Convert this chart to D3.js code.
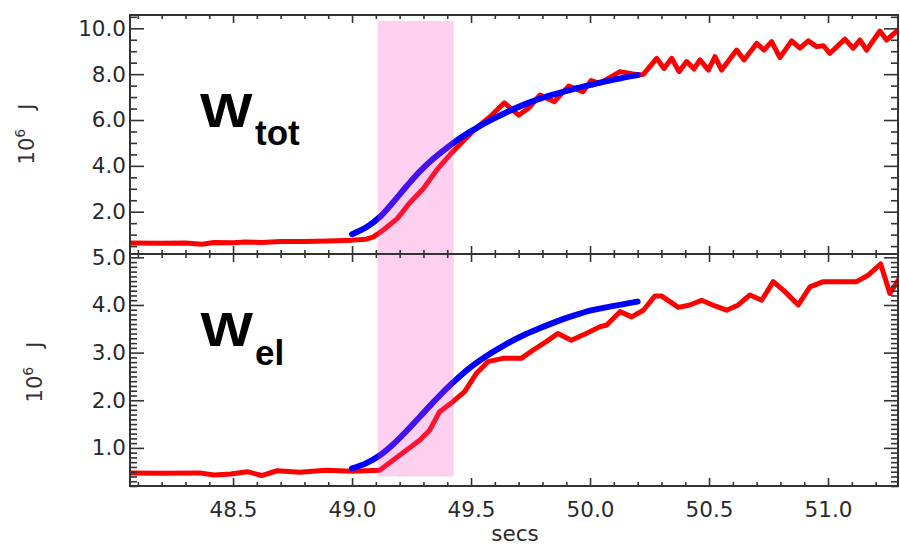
<!DOCTYPE html>
<html><head><meta charset="utf-8">
<script src="https://cdn.jsdelivr.net/npm/d3@7"></script>
<style>body{margin:0;background:#fff}svg{display:block}</style>
</head><body><svg id="c" width="900" height="546"></svg>
<script>
// ---- data ----
const timeTotMeas = [48.07,48.2,48.3,48.37,48.42,48.5,48.55,48.62,48.7,48.8,48.9,49.0,49.06,49.09,49.13,49.19,49.24,49.30,49.355,49.41,49.47,49.52,49.58,49.64,49.70,49.74,49.79,49.85,49.91,49.97,50.005,50.04,50.126,50.203,50.224,50.28,50.311,50.343,50.374,50.406,50.437,50.462,50.497,50.525,50.553,50.616,50.647,50.70,50.731,50.763,50.798,50.847,50.882,50.917,50.952,50.98,51.008,51.071,51.106,51.134,51.162,51.218,51.246,51.295];
const wTotMeas = [0.63,0.62,0.63,0.58,0.66,0.65,0.68,0.66,0.70,0.70,0.72,0.76,0.80,0.90,1.19,1.70,2.36,3.01,3.81,4.47,5.12,5.63,6.14,6.75,6.21,6.50,7.09,6.80,7.48,7.23,7.72,7.60,8.11,7.96,7.99,8.69,8.25,8.69,8.11,8.55,8.23,8.62,8.18,8.76,8.18,9.05,8.62,9.34,9.05,9.42,8.72,9.45,9.13,9.45,9.20,9.24,8.91,9.53,9.13,9.49,9.05,9.88,9.49,9.93];
const timeTotFit = [49.0,49.06,49.12,49.17,49.23,49.285,49.34,49.40,49.45,49.51,49.58,49.65,49.72,49.79,49.86,49.93,50.01,50.10,50.20];
const wTotFit = [1.02,1.32,1.80,2.38,3.12,3.76,4.30,4.80,5.18,5.57,5.98,6.34,6.66,6.93,7.15,7.35,7.55,7.76,7.96];
const timeElMeas = [48.067,48.20,48.36,48.42,48.49,48.56,48.62,48.685,48.78,48.89,49.0,49.116,49.172,49.228,49.284,49.326,49.368,49.424,49.473,49.522,49.571,49.634,49.711,49.760,49.816,49.865,49.921,49.984,50.04,50.07,50.126,50.175,50.224,50.273,50.30,50.371,50.42,50.469,50.525,50.574,50.623,50.672,50.721,50.77,50.819,50.875,50.924,50.98,51.05,51.12,51.17,51.221,51.26,51.30];
const wElMeas = [0.475,0.47,0.475,0.43,0.45,0.50,0.42,0.52,0.49,0.53,0.51,0.53,0.74,0.95,1.16,1.37,1.76,1.97,2.18,2.56,2.81,2.88,2.88,3.05,3.23,3.40,3.26,3.40,3.54,3.58,3.86,3.75,3.89,4.19,4.19,3.95,4.00,4.10,3.98,3.89,4.00,4.21,4.10,4.49,4.28,4.00,4.38,4.49,4.49,4.49,4.63,4.86,4.24,4.56];
const timeElFit = [49.0,49.06,49.116,49.172,49.228,49.284,49.34,49.396,49.452,49.508,49.578,49.648,49.718,49.788,49.858,49.928,50.0,50.1,50.2];
const wElFit = [0.57,0.68,0.84,1.07,1.35,1.65,1.95,2.24,2.50,2.73,2.97,3.18,3.36,3.51,3.65,3.77,3.88,3.98,4.07];
const shadeTimes = [49.108, 49.427];
const shadeTopValue = 10.32, shadeBottomValue = 0.40;
const xTicks = [48.5,49.0,49.5,50.0,50.5,51.0];
const yTicksTot = [2,4,6,8,10];
const yTicksEl = [1,2,3,4,5];
const xDomain = [48.067, 51.294];
const totDomain = [0.155, 10.58];
const elDomain = [0.2, 5.07];
const panelNames = [["W","tot"],["W","el"]];
const xLabel = "secs";

// ---- layout ----
const L = 130, R = 898, T1 = 15, B1 = 254, T2 = 254, B2 = 486;
const svg = d3.select("#c");
const font = "'Liberation Sans', Arial, Helvetica, sans-serif";
const tickFont = "'DejaVu Sans', sans-serif";
const axisCol = "#333";

const x = d3.scaleLinear().domain(xDomain).range([L, R]);
const yTot = d3.scaleLinear().domain(totDomain).range([B1, T1]);
const yEl = d3.scaleLinear().domain(elDomain).range([B2, T2]);

svg.append("defs").append("clipPath").attr("id","clip")
  .append("rect").attr("x",L).attr("y",T1).attr("width",R-L).attr("height",B2-T1);

const plot = svg.append("g").attr("clip-path","url(#clip)");

function drawLine(times, vals, y, color, w, curve){
  const line = d3.line().x(d=>x(d[0])).y(d=>y(d[1])).curve(curve||d3.curveLinear);
  plot.append("path").datum(d3.zip(times, vals))
    .attr("d", line).attr("fill","none").attr("stroke",color)
    .attr("stroke-width", w).attr("stroke-linejoin","round").attr("stroke-linecap","round");
}
drawLine(timeTotMeas, wTotMeas, yTot, "#ff0000", 5);
drawLine(timeTotFit, wTotFit, yTot, "#0000ff", 6, d3.curveMonotoneX);
drawLine(timeElMeas, wElMeas, yEl, "#ff0000", 5);
drawLine(timeElFit, wElFit, yEl, "#0000ff", 6, d3.curveMonotoneX);

// shaded interval (drawn translucent over lines)
plot.append("rect")
  .attr("x", x(shadeTimes[0])).attr("width", x(shadeTimes[1]) - x(shadeTimes[0]))
  .attr("y", yTot(shadeTopValue)).attr("height", yEl(shadeBottomValue) - yTot(shadeTopValue))
  .attr("fill", "rgb(246,73,196)").attr("opacity", 0.26);

// ---- axes ----
function styleAxis(g, labels){
  g.select(".domain").remove();
  g.selectAll(".tick line").attr("stroke", axisCol).attr("stroke-width", 1.6);
  g.selectAll(".tick text").attr("fill", labels ? "#2a2a2a" : "none")
    .style("font-family", tickFont).style("font-size", "21.5px");
}
function yAxes(y, major, minorStep){
  const minor = d3.range(Math.ceil(y.domain()[0]/minorStep)*minorStep, y.domain()[1], minorStep)
      .filter(v => !major.some(m => Math.abs(m - v) < 1e-6));
  svg.append("g").attr("transform",`translate(${L},0)`)
    .call(d3.axisLeft(y).tickValues(major).tickSize(-14).tickPadding(4).tickFormat(d3.format(".1f")))
    .call(g=>styleAxis(g,true));
  svg.append("g").attr("transform",`translate(${L},0)`)
    .call(d3.axisLeft(y).tickValues(minor).tickSize(-7).tickFormat(""))
    .call(g=>styleAxis(g,false));
  svg.append("g").attr("transform",`translate(${R},0)`)
    .call(d3.axisRight(y).tickValues(major).tickSize(-14).tickFormat(""))
    .call(g=>styleAxis(g,false));
  svg.append("g").attr("transform",`translate(${R},0)`)
    .call(d3.axisRight(y).tickValues(minor).tickSize(-7).tickFormat(""))
    .call(g=>styleAxis(g,false));
}
yAxes(yTot, yTicksTot, 0.5);
yAxes(yEl, yTicksEl, 0.1);

const xMinor = d3.range(48.1, 51.25, 0.1).filter(v => !xTicks.some(m => Math.abs(m-v) < 1e-6));
function xAxes(yPos, dir, labels){
  const mk = dir === "down" ? d3.axisTop : d3.axisBottom; // ticks pointing inward
  svg.append("g").attr("transform",`translate(0,${yPos})`)
    .call(mk(x).tickValues(xTicks).tickSize(-8).tickPadding(16).tickFormat(labels ? d3.format(".1f") : ""))
    .call(g=>styleAxis(g,labels));
  svg.append("g").attr("transform",`translate(0,${yPos})`)
    .call(mk(x).tickValues(xMinor).tickSize(-4).tickFormat(""))
    .call(g=>styleAxis(g,false));
}
xAxes(T1, "down", false);
xAxes(B1, "up", false);
xAxes(T2, "down", false);
xAxes(B2, "up", true);

// frames
[[T1,B1],[T2,B2]].forEach(([t,b]) => {
  svg.append("rect").attr("x",L).attr("y",t).attr("width",R-L).attr("height",b-t)
    .attr("fill","none").attr("stroke",axisCol).attr("stroke-width",2);
});

// axis titles
function yTitle(cx, cy){
  const t = svg.append("text").attr("transform",`translate(${cx},${cy}) rotate(-90)`)
    .attr("text-anchor","middle").attr("fill","#333")
    .style("font-family", tickFont).style("font-size","21px");
  t.append("tspan").text("10");
  t.append("tspan").attr("dy",-9).style("font-size","14px").text("6");
  t.append("tspan").attr("dy",9).attr("dx",19).text("J");
}
yTitle(34, 134);
yTitle(42, 372);

svg.append("text").attr("x", 515).attr("y", 541).attr("text-anchor","middle")
  .attr("fill","#2a2a2a").style("font-family", tickFont).style("font-size","21.5px").text(xLabel);

// big panel labels
function bigLabel(nm, bx, by, sx, sy){
  svg.append("text").attr("x", bx).attr("y", by)
    .attr("textLength", 52.5).attr("lengthAdjust","spacingAndGlyphs")
    .style("font-family", font).style("font-weight","bold").style("font-size","49px")
    .attr("fill","#000").text(nm[0]);
  svg.append("text").attr("x", sx).attr("y", sy)
    .style("font-family", font).style("font-weight","bold").style("font-size","35px")
    .attr("fill","#000").text(nm[1]);
}
bigLabel(panelNames[0], 200, 126.7, 255, 145);
bigLabel(panelNames[1], 200.5, 345.7, 255, 365);
</script></body></html>
